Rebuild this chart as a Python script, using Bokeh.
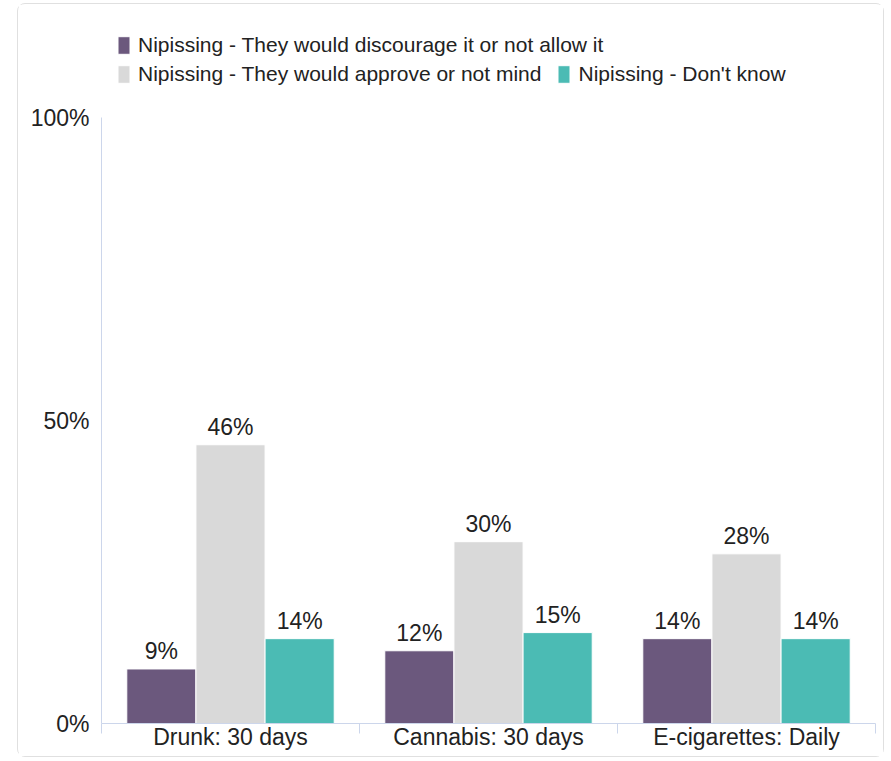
from bokeh.plotting import figure
from bokeh.models import (Range1d, FixedTicker, PrintfTickFormatter, ColumnDataSource,
                          LabelSet, Legend, LegendItem)
from bokeh.core.properties import value
from bokeh.embed import file_html
from bokeh.resources import INLINE

# ---- data ----
categories = ["Drunk: 30 days", "Cannabis: 30 days", "E-cigarettes: Daily"]
series_names = [
    "Nipissing - They would discourage it or not allow it",
    "Nipissing - They would approve or not mind",
    "Nipissing - Don't know",
]
discourage = [9, 12, 14]
approve = [46, 30, 28]
dont_know = [14, 15, 14]
y_ticks = [0, 50, 100]

colors = ["#6b587d", "#d9d9d9", "#4bbbb4"]
FONT = "Liberation Sans"
TEXT = "#222222"
AXIS = "#ccd6eb"

# frame extends to the top of the canvas so that the legend (inside it) is not clipped;
# the y axis line is bounded to 0..100
FRAME_H = 719
p = figure(frame_width=774, frame_height=FRAME_H,
           min_border_left=83, min_border_top=0, min_border_right=8, min_border_bottom=33,
           x_range=Range1d(0, len(categories)), y_range=Range1d(0, FRAME_H / 6.06),
           output_backend="svg", toolbar_location=None)
p.styles = {"border": "1px solid #e0e0e0", "border-radius": "8px",
            "margin-left": "17px", "margin-top": "3px"}
p.outline_line_color = None
p.xgrid.visible = False
p.ygrid.visible = False

series = [discourage, approve, dont_know]
bw = 0.268
offsets = [-bw, 0.0, bw]
renderers = []
for vals, color, off in zip(series, colors, offsets):
    src = ColumnDataSource(dict(
        x=[i + 0.5 + off for i in range(len(categories))],
        top=vals,
        label=[f"{v}%" for v in vals],
    ))
    r = p.vbar(x="x", top="top", bottom=0, width=bw, source=src,
               fill_color=color, line_color="white", line_width=1)
    renderers.append(r)
    p.add_layout(LabelSet(x="x", y="top", text="label", source=src,
                          y_offset=10, text_align="center", text_baseline="alphabetic",
                          text_font=value(FONT), text_font_size=value("23px"),
                          text_color=TEXT))

# y axis
yax = p.yaxis[0]
yax.ticker = FixedTicker(ticks=y_ticks)
yax.bounds = (0, 100)
yax.formatter = PrintfTickFormatter(format="%d%%")
yax.major_tick_in = 0
yax.major_tick_out = 0
yax.minor_tick_in = 0
yax.minor_tick_out = 0
yax.major_tick_line_color = None
yax.minor_tick_line_color = None
yax.axis_line_color = AXIS
yax.major_label_standoff = 12
yax.major_label_text_font = FONT
yax.major_label_text_font_size = "23px"
yax.major_label_text_color = TEXT

# x axis
xax = p.xaxis[0]
xax.ticker = FixedTicker(ticks=[i + 0.5 for i in range(len(categories))],
                         minor_ticks=list(range(len(categories) + 1)))
xax.major_label_overrides = {i + 0.5: c for i, c in enumerate(categories)}
xax.major_tick_in = 0
xax.major_tick_out = 0
xax.major_tick_line_color = None
xax.minor_tick_in = 0
xax.minor_tick_out = 10
xax.minor_tick_line_color = AXIS
xax.axis_line_color = AXIS
xax.major_label_standoff = -10
xax.major_label_text_font = FONT
xax.major_label_text_font_size = "23px"
xax.major_label_text_color = TEXT

def make_legend(items, loc):
    return Legend(items=items, location=loc, orientation="horizontal",
                  label_text_font=FONT, label_text_font_size="21px", label_text_color=TEXT,
                  glyph_width=15, glyph_height=22, label_standoff=7, spacing=15,
                  padding=0, margin=0, border_line_alpha=0, background_fill_alpha=0)

leg1 = make_legend([LegendItem(label=series_names[0], renderers=[renderers[0]])], (15, 666))
leg2 = make_legend([LegendItem(label=series_names[1], renderers=[renderers[1]]),
                    LegendItem(label=series_names[2], renderers=[renderers[2]])], (15, 637))
p.add_layout(leg1)
p.add_layout(leg2)

open("out.html", "w").write(file_html(p, INLINE))
